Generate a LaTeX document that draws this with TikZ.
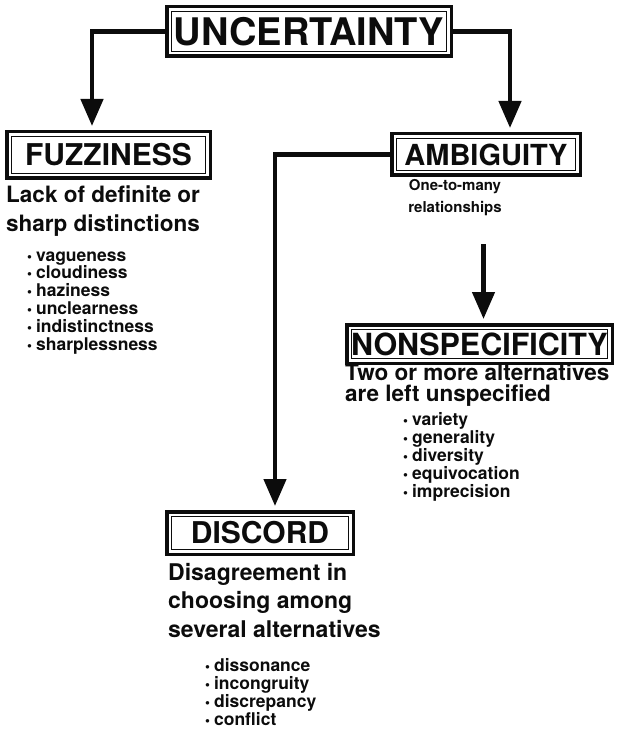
\documentclass[tikz,border=0pt]{standalone}
\usepackage{fontspec}
\setmainfont{TeX Gyre Heros}
\usetikzlibrary{
  arrows.meta,
  positioning
}
\definecolor{ScanInk}{RGB}{12,12,12}
\newcommand{\bul}{{\fontsize{14}{14}\selectfont\textbullet}\hspace{4pt}}
\tikzset{
  termbox/.style={draw=ScanInk,line width=3.5pt,inner sep=0pt,text=ScanInk,font=\bfseries\fontsize{30}{30}\selectfont,
    path picture={\draw[ScanInk,line width=1.3pt] ([shift={(5pt,-5pt)}]path picture bounding box.north west) rectangle ([shift={(-5pt,5pt)}]path picture bounding box.south east);}},
  desctext/.style={text=ScanInk,inner sep=0pt,align=left,font=\bfseries\fontsize{22.5}{28.5}\selectfont},
  listtext/.style={text=ScanInk,inner sep=0pt,align=left,font=\bfseries\fontsize{17.5}{17.8}\selectfont},
  flowarrow/.style={draw=ScanInk,line width=4.5pt,-{Triangle[width=22pt,length=27pt]},shorten >=4pt}
}
\begin{document}
\begin{tikzpicture}[x=1pt,y=-1pt]
\useasboundingbox[fill=white] (0,0) rectangle (616,730);
% term boxes
\node[termbox,font=\bfseries\fontsize{38}{38}\selectfont,minimum width=284.5pt,minimum height=49.5pt] (unc) at (309,31.5) {UNCERTAINTY};
\node[termbox,minimum width=203.5pt,minimum height=46.5pt] (fuzz) at (108.5,155) {FUZZINESS};
\node[termbox,font=\bfseries\fontsize{29}{29}\selectfont,minimum width=188.5pt,minimum height=41.5pt] (amb) at (486,154.5) {AMBIGUITY};
\node[termbox,font=\bfseries\fontsize{30.5}{30.5}\selectfont,minimum width=265.5pt,minimum height=38.5pt] (nonspec) at (479.5,344) {NONSPECIFICITY};
\node[termbox,minimum width=186.5pt,minimum height=42.5pt] (disc) at (260,533) {DISCORD};
% descriptions (base = last line)
\node[desctext,anchor=base west] (fuzztext) at (6,231) {Lack of definite or\\sharp distinctions};
\node[desctext,align=center,font=\bfseries\fontsize{15}{22}\selectfont,anchor=base] (ambtext) at (455,212) {One-to-many\\relationships};
\node[desctext,font=\bfseries\fontsize{22.5}{21}\selectfont,anchor=base west] (nonspectext) at (345,401) {Two or more alternatives\\are left unspecified};
\node[desctext,font=\bfseries\fontsize{23}{28.5}\selectfont,anchor=base west] (disctext) at (168,637) {Disagreement in\\choosing among\\several alternatives};
% lists
\node[listtext,anchor=base west] (fuzzlist) at (27,350) {\bul vagueness\\\bul cloudiness\\\bul haziness\\\bul unclearness\\\bul indistinctness\\\bul sharplessness};
\node[listtext,anchor=base west] (nonspeclist) at (403,497) {\bul variety\\\bul generality\\\bul diversity\\\bul equivocation\\\bul imprecision};
\node[listtext,anchor=base west] (disclist) at (205,725) {\bul dissonance\\\bul incongruity\\\bul discrepancy\\\bul conflict};
% connectors
\coordinate (nsin) at ([xshift=4pt]nonspec.north);
\draw[flowarrow] (unc.west) -| ([xshift=-16.5pt]fuzz.north);
\draw[flowarrow] (unc.east) -| ([xshift=24pt]amb.north);
\draw[flowarrow] (amb.west) -| ([xshift=15pt]disc.north);
\draw[flowarrow,shorten <=29pt] (nsin |- ambtext.south) -- (nsin);
\end{tikzpicture}
\end{document}
